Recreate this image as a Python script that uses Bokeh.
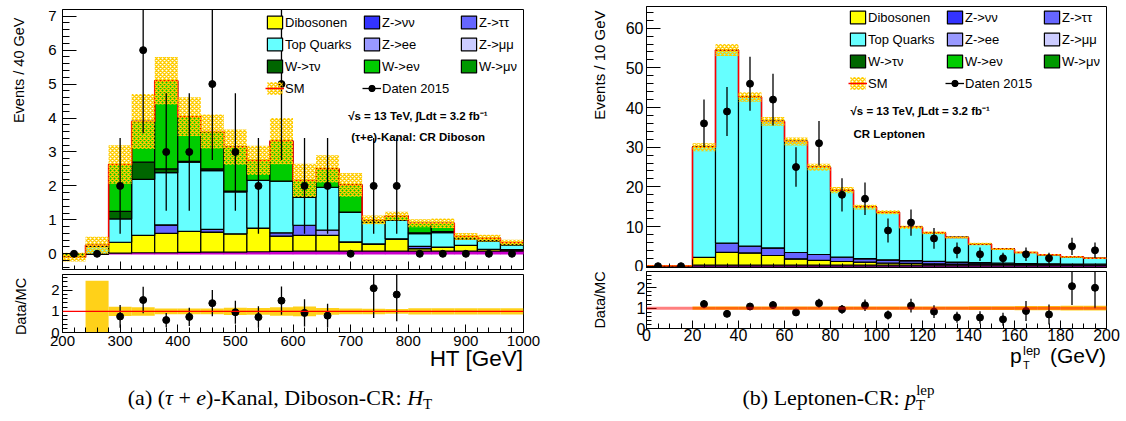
import math
import numpy as np
from bokeh.plotting import figure
from bokeh.models import (Range1d, SingleIntervalTicker, Label, Legend, LegendItem,
                          Div, Span, Title, CustomJSTickFormatter)
from bokeh.layouts import row, column
from bokeh.embed import file_html
from bokeh.resources import INLINE

SANS = "Liberation Sans"

# ---------------- (a) (tau+e)-Kanal, Diboson-CR : HT ----------------
ht_edges = [200, 240, 280, 320, 360, 400, 440, 480, 520, 560, 600,
            640, 680, 720, 760, 800, 840, 880, 920, 960, 1000]
ht_other = [0.00, 0.00, 0.02, 0.03, 0.03, 0.04, 0.05, 0.05, 0.06, 0.07,
            0.08, 0.08, 0.08, 0.08, 0.08, 0.08, 0.08, 0.08, 0.08, 0.08]
ht_dibosonen = [0.00, 0.00, 0.32, 0.51, 0.57, 0.62, 0.59, 0.54, 0.70, 0.45,
                0.46, 0.46, 0.27, 0.21, 0.36, 0.07, 0.12, 0.17, 0.05, 0.04]
ht_z_nunu = [0.0] * 20
ht_z_tautau = [0.0, 0.0, 0.0, 0.0, 0.25, 0.0, 0.08, 0.0, 0.0, 0.10,
               0.30, 0.0, 0.0, 0.0, 0.0, 0.07, 0.0, 0.0, 0.0, 0.0]
ht_z_ee = [0.0, 0.0, 0.0, 0.0, 0.0, 0.0, 0.0, 0.0, 0.0, 0.0,
           0.0, 0.16, 0.0, 0.0, 0.0, 0.0, 0.0, 0.0, 0.0, 0.0]
ht_z_mumu = [0.0] * 20
ht_top = [0.00, 0.22, 0.69, 1.65, 1.54, 2.04, 1.73, 1.23, 1.40, 1.52,
          0.83, 1.26, 0.88, 0.64, 0.54, 0.37, 0.42, 0.19, 0.24, 0.14]
ht_w_taunu = [0.0, 0.0, 0.22, 0.51, 0.11, 0.02, 0.05, 0.03, 0.0, 0.0,
              0.0, 0.0, 0.0, 0.0, 0.0, 0.03, 0.03, 0.0, 0.02, 0.0]
ht_w_enu = [-0.10, 0.03, 1.38, 1.20, 2.60, 1.32, 1.10, 1.29, 0.59, 1.18,
            0.49, 0.54, 0.80, 0.07, 0.13, 0.28, 0.25, 0.07, 0.07, 0.07]
ht_w_munu = [0.0] * 20
ht_sm_err = [0.13, 0.25, 0.57, 0.81, 0.70, 0.57, 0.50, 0.52, 0.43, 0.68,
             0.49, 0.40, 0.35, 0.13, 0.13, 0.12, 0.14, 0.10, 0.10, 0.08]
ht_data = [0, 0, 2, 6, 3, 3, 5, 3, 2, 5, 2, 2, 0, 2, 2, 0, 0, 0, 0, 0]
ht_data_err = [0, 0, 1.41, 2.45, 1.73, 1.73, 2.24, 1.73, 1.41, 2.24,
               1.41, 1.41, 0, 1.41, 1.41, 0, 0, 0, 0, 0]
ht_ratio = [None, None, 0.76, 1.54, 0.59, 0.74, 1.39, 0.96, 0.73, 1.51,
            0.93, 0.80, None, 2.10, 1.80, None, None, None, None, None]
ht_ratio_err = [None, None, 0.54, 0.63, 0.34, 0.43, 0.62, 0.55, 0.51, 0.67,
                0.65, 0.56, None, 1.41, 1.27, None, None, None, None, None]
ht_ratio_band = [0.0, 1.45, 0.22, 0.20, 0.14, 0.14, 0.14, 0.17, 0.16, 0.20,
                 0.23, 0.16, 0.14, 0.13, 0.11, 0.15, 0.15, 0.15, 0.15, 0.15]

# ---------------- (b) Leptonen-CR : pT(lep) ----------------
pt_edges = [0, 10, 20, 30, 40, 50, 60, 70, 80, 90, 100,
            110, 120, 130, 140, 150, 160, 170, 180, 190, 200]
pt_other = [0.10, 0.10, 0.25, 0.25, 0.25, 0.25, 0.25, 0.25, 0.25, 0.25,
            0.25, 0.25, 0.25, 0.25, 0.25, 0.25, 0.25, 0.25, 0.25, 0.25]
pt_dibosonen = [0.0, 0.0, 1.95, 3.25, 3.10, 2.45, 1.60, 1.20, 0.93, 0.75,
                0.55, 0.45, 0.35, 0.30, 0.25, 0.20, 0.15, 0.15, 0.10, 0.10]
pt_z_nunu = [0.0] * 20
pt_z_tautau = [0.0, 0.0, 0.0, 2.30, 1.70, 1.90, 1.60, 1.50, 1.10, 0.90,
               0.80, 0.70, 0.60, 0.50, 0.40, 0.30, 0.25, 0.20, 0.20, 0.15]
pt_z_ee = [0.0] * 20
pt_z_mumu = [0.0] * 20
pt_top = [0.0, 0.0, 27.8, 48.7, 37.6, 31.9, 28.0, 22.0, 16.9, 13.0,
          12.0, 8.4, 7.2, 6.2, 4.7, 3.6, 2.8, 2.3, 1.8, 1.5]
pt_w_taunu = [0.0] * 20
pt_w_enu = [0.0] * 20
pt_w_munu = [0.0] * 20
pt_sm_err = [0.1, 0.1, 1.0, 1.5, 1.2, 1.1, 1.0, 0.9, 0.8, 0.6,
             0.5, 0.4, 0.35, 0.3, 0.3, 0.25, 0.25, 0.2, 0.2, 0.2]
pt_data = [0, 0, 36, 39, 46, 42, 25, 31, 18, 17, 9, 11, 7, 4, 3, 2, 3, 2, 5, 4]
pt_data_err = [0, 0, 6.0, 6.2, 6.8, 6.5, 5.0, 5.6, 4.2, 4.1,
               3.0, 3.3, 2.6, 2.0, 1.7, 1.4, 1.7, 1.4, 2.2, 2.0]
pt_ratio = [None, None, 1.20, 0.72, 1.08, 1.15, 0.79, 1.24, 0.94, 1.14,
            0.66, 1.12, 0.83, 0.55, 0.54, 0.45, 0.86, 0.69, 2.08, 2.00]
pt_ratio_err = [None, None, 0.20, 0.11, 0.16, 0.18, 0.16, 0.22, 0.22, 0.28,
                0.22, 0.34, 0.31, 0.27, 0.31, 0.32, 0.49, 0.49, 0.92, 1.00]
pt_ratio_band = [0.0, 0.0, 0.08, 0.08, 0.08, 0.08, 0.08, 0.08, 0.08, 0.08,
                 0.08, 0.08, 0.08, 0.08, 0.09, 0.09, 0.10, 0.10, 0.12, 0.12]

legend_order = ["Dibosonen", "Z->νν", "Z->ττ", "Top Quarks", "Z->ee", "Z->μμ",
                "W->τν", "W->eν", "W->μν"]
colors = {
    "Dibosonen": "#FFFF00", "Z->νν": "#3333FF", "Z->ττ": "#6666FF",
    "Top Quarks": "#66FFFF", "Z->ee": "#9999FF", "Z->μμ": "#CCCCFF",
    "W->τν": "#006600", "W->eν": "#00CC00", "W->μν": "#009900",
}
stack_order = ["Dibosonen", "Z->νν", "Z->ττ", "Z->ee", "Z->μμ", "Top Quarks",
               "W->τν", "W->eν", "W->μν"]


def base_fig(width, height, xr, yr, bl, br, bt, bb):
    p = figure(width=width, height=height, x_range=Range1d(*xr), y_range=Range1d(*yr),
               output_backend="svg", toolbar_location=None, title=None,
               min_border_left=bl, min_border_right=br, min_border_top=bt,
               min_border_bottom=bb)
    p.grid.visible = False
    p.outline_line_color = "black"
    p.outline_line_width = 1
    p.outline_line_alpha = 1
    p.background_fill_color = "white"
    p.border_fill_color = "white"
    return p


def style_axes(p, xint, xminor, yint, yminor, font_px, ymaj, ymin_, xmaj, xmin_,
               ystand, xstand, xlabels=True):
    p.xaxis.ticker = SingleIntervalTicker(interval=xint, num_minor_ticks=xminor)
    p.yaxis.ticker = SingleIntervalTicker(interval=yint, num_minor_ticks=yminor)
    for ax in p.xaxis + p.yaxis:
        ax.axis_line_color = "black"
        ax.major_tick_line_color = "black"
        ax.minor_tick_line_color = "black"
        ax.major_tick_out = 0
        ax.minor_tick_out = 0
        ax.major_label_text_font = SANS
        ax.major_label_text_color = "black"
        ax.major_label_text_font_size = f"{font_px}px"
    p.yaxis.major_tick_in = ymaj
    p.yaxis.minor_tick_in = ymin_
    p.yaxis.major_label_standoff = ystand
    p.xaxis.major_tick_in = xmaj
    p.xaxis.minor_tick_in = xmin_
    p.xaxis.major_label_standoff = xstand
    if not xlabels:
        p.xaxis.formatter = CustomJSTickFormatter(code="return ''")
        p.xaxis.major_label_text_font_size = "1px"
        p.xaxis.major_label_standoff = 0


def draw_top(p, edges, comps, other, other_color, sm_err, data, data_err):
    left = np.array(edges[:-1], float)
    right = np.array(edges[1:], float)
    centers = (left + right) / 2
    base = np.zeros(len(left))
    rs = {}
    o = np.array(other, float)
    p.quad(left=left, right=right, bottom=base, top=base + o,
           fill_color=other_color, line_color=other_color, line_width=1.5)
    base = base + o
    for name in stack_order:
        v = np.array(comps[name], float)
        rs[name] = p.quad(left=left, right=right, bottom=base, top=base + v,
                          fill_color=colors[name], line_color="black", line_width=1.2)
        base = base + v
    total = base
    err = np.array(sm_err, float)
    step_r = p.step(x=list(edges), y=list(total) + [total[-1]], mode="after",
                    line_color="#FF0000", line_width=1.5)
    band_r = p.quad(left=left, right=right, bottom=total - err, top=total + err,
                    fill_alpha=0, line_alpha=0, hatch_pattern="diagonal_cross",
                    hatch_color="#FFCC00", hatch_scale=4, hatch_weight=1.5, hatch_alpha=1)
    d = np.array(data, float)
    de = np.array(data_err, float)
    err_r = p.segment(x0=centers, y0=d - de, x1=centers, y1=d + de,
                      line_color="black", line_width=1.3)
    pts_r = p.scatter(x=centers, y=d, size=7, color="black")
    items = [LegendItem(label=name, renderers=[rs[name]]) for name in legend_order]
    items.append(LegendItem(label="SM", renderers=[band_r, step_r]))
    items.append(LegendItem(label="Daten 2015", renderers=[err_r, pts_r]))
    return items


def add_legend(p, items, loc):
    lg = Legend(items=items, location=loc, orientation="horizontal", ncols=3,
                glyph_width=19, glyph_height=16, label_height=16, label_width=71,
                label_standoff=1, spacing=6, padding=0, margin=0,
                border_line_alpha=0, background_fill_alpha=0,
                label_text_font=SANS, label_text_font_size="13px",
                label_text_color="black", label_text_baseline="middle")
    p.add_layout(lg, "center")


def draw_ratio(p, edges, ratio, ratio_err, band, band_color, line_alpha, line_width):
    left = np.array(edges[:-1], float)
    right = np.array(edges[1:], float)
    centers = (left + right) / 2
    b = np.array(band, float)
    m = b > 0
    p.quad(left=left[m], right=right[m], bottom=1 - b[m], top=1 + b[m],
           fill_color=band_color, fill_alpha=0.9, line_alpha=0)
    p.add_layout(Span(location=1, dimension="width", line_color="#FF0000",
                      line_alpha=line_alpha, line_width=line_width))
    idx = [i for i, r in enumerate(ratio) if r is not None]
    xs = centers[idx]
    rv = np.array([ratio[i] for i in idx], float)
    re = np.array([ratio_err[i] for i in idx], float)
    p.segment(x0=xs, y0=rv - re, x1=xs, y1=rv + re, line_color="black", line_width=1.3)
    p.scatter(x=xs, y=rv, size=7, color="black")


def lab(p, x, y, text, size, bold=False, align="left", baseline="middle", angle=0.0):
    p.add_layout(Label(x=x, y=y, text=text, text_font=SANS, text_font_size=f"{size}px",
                       text_font_style="bold" if bold else "normal", text_color="black",
                       text_align=align, text_baseline=baseline, angle=angle))


def ytitle(p, text, size, align, offset, standoff):
    p.add_layout(Title(text=text, text_font=SANS, text_font_size=f"{size}px",
                       text_font_style="normal", text_color="black", align=align,
                       vertical_align="middle", offset=offset, standoff=standoff), "left")


def label_fig(width, height):
    # a blank canvas (pixel-sized ranges) that only carries axis-title texts
    p = figure(width=width, height=height, x_range=Range1d(0, width),
               y_range=Range1d(0, height), output_backend="svg", toolbar_location=None,
               title=None, x_axis_type=None, y_axis_type=None, min_border=0,
               min_border_left=0, min_border_right=0, min_border_top=0,
               min_border_bottom=0, frame_align=False)
    p.grid.visible = False
    p.outline_line_color = None
    p.background_fill_color = "white"
    p.border_fill_color = "white"
    return p


def abs_text(top, left=None, right=None, size=22, lh=18, font="'Liberation Sans'", html=""):
    pos = f"left:{left}px;" if left is not None else f"right:{right}px;"
    return (f'<div style="position:absolute;top:{top}px;{pos}font-family:{font};'
            f'font-size:{size}px;line-height:{lh}px;white-space:nowrap;color:black">{html}</div>')


# ---------------- left panel ----------------
ht_comps = {"Dibosonen": ht_dibosonen, "Z->νν": ht_z_nunu, "Z->ττ": ht_z_tautau,
            "Z->ee": ht_z_ee, "Z->μμ": ht_z_mumu, "Top Quarks": ht_top,
            "W->τν": ht_w_taunu, "W->eν": ht_w_enu, "W->μν": ht_w_munu}
tl = base_fig(530, 271, (200, 1000), (-0.463, 7.197), 32, 37, 9, 2)
style_axes(tl, 100, 5, 1, 5, 15, 14, 7, 8, 4, 6, 0, xlabels=False)
items_l = draw_top(tl, ht_edges, ht_comps, ht_other, "#CC00CC", ht_sm_err, ht_data, ht_data_err)
add_legend(tl, items_l, (203, 173))
lab(tl, 695.7, 4.07, "√s = 13 TeV, ∫Ldt = 3.2 fb⁻¹", 11.5, bold=True)
lab(tl, 700.9, 3.43, "(τ+e)-Kanal: CR Diboson", 11.5, bold=True)

bl_ = base_fig(530, 79, (200, 1000), (0, 2.75), 32, 37, 3, 18)
style_axes(bl_, 100, 5, 1, 5, 15, 10, 5, 8, 5, 3, 3)
draw_ratio(bl_, ht_edges, ht_ratio, ht_ratio_err, ht_ratio_band, "#FFCC00", 1.0, 1.2)

yl_l = label_fig(30, 350)
lab(yl_l, 18, 333, "Events / 40 GeV", 14.5, align="right", angle=math.pi / 2)
lab(yl_l, 20, 44, "Data/MC", 14.5, align="center", angle=math.pi / 2)

cap_a_html = (
    '<div style="position:relative;width:560px;height:71px;">'
    + abs_text(0, right=37, size=22.5, lh=18, html="HT [GeV]")
    + '<div style="position:absolute;top:36px;left:0px;width:560px;text-align:center;'
      'font-family:\'Liberation Serif\';font-size:22px;line-height:24px;white-space:nowrap;color:black">'
      '(a) (<i>τ</i> + <i>e</i>)-Kanal, Diboson-CR: <i>H</i>'
      '<span style="font-size:15px;position:relative;top:4px">T</span></div>'
    + '</div>')
cap_a = Div(text=cap_a_html, width=560, height=71, margin=0)

# ---------------- right panel ----------------
pt_comps = {"Dibosonen": pt_dibosonen, "Z->νν": pt_z_nunu, "Z->ττ": pt_z_tautau,
            "Z->ee": pt_z_ee, "Z->μμ": pt_z_mumu, "Top Quarks": pt_top,
            "W->τν": pt_w_taunu, "W->eν": pt_w_enu, "W->μν": pt_w_munu}
tr = base_fig(566, 271, (0, 200), (-0.33, 65.47), 86, 20, 6, 4)
style_axes(tr, 20, 4, 10, 5, 16, 14, 7, 8, 4, 3, 0, xlabels=False)
items_r = draw_top(tr, pt_edges, pt_comps, pt_other, "#5A0060", pt_sm_err, pt_data, pt_data_err)
add_legend(tr, items_r, (202, 176))
ytitle(tr, "Events / 10 GeV", 15, "right", 4, 27)
lab(tr, 88.7, 39.25, "√s = 13 TeV, ∫Ldt = 3.2 fb⁻¹", 11.5, bold=True)
lab(tr, 90.0, 33.45, "CR Leptonen", 11.5, bold=True)

br_ = base_fig(566, 73, (0, 200), (0, 2.8), 86, 20, 0, 16)
style_axes(br_, 20, 4, 1, 5, 16, 10, 5, 8, 5, 1, 0)
draw_ratio(br_, pt_edges, pt_ratio, pt_ratio_err, pt_ratio_band, "#FFCC00", 0.5, 3)
ytitle(br_, "Data/MC", 14.5, "center", 0, 49)

cap_b_html = (
    '<div style="position:relative;width:566px;height:77px;">'
    + abs_text(3, left=450, size=21, lh=18, html="p")
    + abs_text(16, left=463, size=11, lh=11, html="T")
    + abs_text(0, left=463, size=13, lh=13, html="lep")
    + abs_text(3, right=20, size=21, lh=18, html="(GeV)")
    + '<div style="position:absolute;top:42px;left:0px;width:566px;text-align:center;'
      'font-family:\'Liberation Serif\';font-size:22px;line-height:24px;white-space:nowrap;color:black">'
      '(b) Leptonen-CR: <i>p</i>'
      '<span style="font-size:15px;position:relative;top:5px">T</span>'
      '<span style="font-size:15px;position:relative;top:-10px;left:-9px">lep</span></div>'
    + '</div>')
cap_b = Div(text=cap_b_html, width=566, height=77, margin=0)

left_block = column(row(yl_l, column(tl, bl_)), cap_a)
right_block = column(tr, br_, cap_b)
layout = row(left_block, right_block)
open("out.html", "w").write(file_html(layout, INLINE))
